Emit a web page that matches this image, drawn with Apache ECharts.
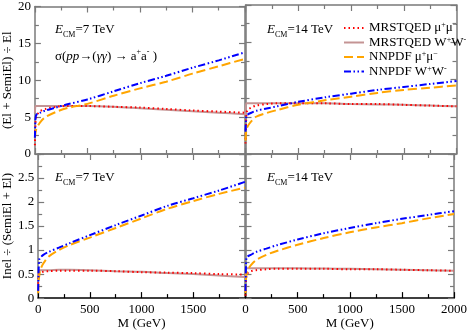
<!DOCTYPE html>
<html>
<head>
<meta charset="utf-8">
<script src="https://cdn.jsdelivr.net/npm/echarts@6/dist/echarts.min.js"></script>
<style>
html, body { margin: 0; padding: 0; background: #fff; }
#chart { width: 470px; height: 331px; }
</style>
</head>
<body>
<div id="chart"></div>
<script>
var massGeV = [0, 5, 10, 20, 50, 100, 200, 300, 500, 750, 1000, 1250, 1500, 1750, 2000];

// (El + SemiEl) / El at 7 TeV
var semi7MrstMu = [1.2, 4.0, 4.8, 5.3, 5.8, 6.1, 6.4, 6.5, 6.5, 6.4, 6.3, 6.1, 5.9, 5.75, 5.6];
var semi7MrstW = [5.6, 6.5, 6.5, 6.5, 6.5, 6.5, 6.5, 6.5, 6.5, 6.4, 6.2, 6.0, 5.8, 5.6, 5.4];
var semi7NnpdfMu = [2.2, 2.8, 3.2, 3.6, 4.3, 5.0, 5.7, 6.2, 6.8, 7.9, 8.9, 9.8, 10.9, 11.9, 12.9];
var semi7NnpdfW = [2.2, 4.6, 5.2, 5.4, 5.6, 5.9, 6.3, 6.7, 7.4, 8.5, 9.6, 10.6, 11.7, 12.7, 13.8];

// (El + SemiEl) / El at 14 TeV
var semi14MrstMu = [1.4, 4.0, 5.5, 5.9, 6.2, 6.5, 6.7, 6.8, 6.8, 6.8, 6.7, 6.7, 6.6, 6.5, 6.4];
var semi14MrstW = [5.2, 6.8, 6.8, 6.8, 6.8, 6.8, 6.8, 6.8, 6.8, 6.8, 6.7, 6.65, 6.6, 6.5, 6.4];
var semi14NnpdfMu = [1.8, 2.8, 3.3, 3.7, 4.3, 5.0, 5.5, 5.9, 6.6, 7.2, 7.7, 8.2, 8.6, 8.9, 9.2];
var semi14NnpdfW = [3.0, 4.6, 5.2, 5.3, 5.5, 5.8, 6.1, 6.4, 7.0, 7.6, 8.1, 8.6, 9.0, 9.4, 9.8];

// Inel / (SemiEl + El) at 7 TeV
var inel7MrstMu = [0.3, 0.45, 0.5, 0.53, 0.55, 0.56, 0.57, 0.57, 0.57, 0.56, 0.54, 0.53, 0.52, 0.5, 0.49];
var inel7MrstW = [0.45, 0.58, 0.58, 0.58, 0.58, 0.58, 0.59, 0.59, 0.58, 0.56, 0.55, 0.52, 0.5, 0.47, 0.44];
var inel7NnpdfMu = [0.1, 0.35, 0.45, 0.58, 0.72, 0.86, 1.0, 1.1, 1.26, 1.46, 1.66, 1.86, 2.02, 2.17, 2.3];
var inel7NnpdfW = [0.15, 0.6, 0.8, 0.84, 0.9, 0.96, 1.05, 1.14, 1.31, 1.52, 1.72, 1.92, 2.08, 2.24, 2.42];

// Inel / (SemiEl + El) at 14 TeV
var inel14MrstMu = [0.05, 0.35, 0.47, 0.52, 0.56, 0.58, 0.6, 0.61, 0.61, 0.61, 0.6, 0.6, 0.59, 0.58, 0.57];
var inel14MrstW = [0.45, 0.62, 0.62, 0.62, 0.62, 0.62, 0.62, 0.62, 0.62, 0.615, 0.61, 0.6, 0.59, 0.58, 0.57];
var inel14NnpdfMu = [0.1, 0.4, 0.5, 0.58, 0.68, 0.79, 0.9, 0.98, 1.11, 1.25, 1.37, 1.47, 1.56, 1.66, 1.75];
var inel14NnpdfW = [0.15, 0.7, 0.85, 0.87, 0.9, 0.96, 1.03, 1.1, 1.22, 1.35, 1.46, 1.56, 1.65, 1.73, 1.81];

var seriesNames = ['MRSTQED μ+μ−', 'MRSTQED W+W−', 'NNPDF μ+μ−', 'NNPDF W+W−'];
var legendRich = {
	'MRSTQED μ+μ−': '{n|MRSTQED μ}{s|+}{n|μ}{s|−}',
	'MRSTQED W+W−': '{n|MRSTQED W}{s|+}{n|W}{s|-}',
	'NNPDF μ+μ−': '{n|NNPDF μ}{s|+}{n|μ}{s|−}',
	'NNPDF W+W−': '{n|NNPDF W}{s|+}{n|W}{s|-}'
};
var lineStyles = {
	'MRSTQED μ+μ−': { color: '#ff0000', width: 2, type: [1.5, 3] },
	'MRSTQED W+W−': { color: '#c49494', width: 2, type: 'solid' },
	'NNPDF μ+μ−': { color: '#ffa500', width: 2, type: [9, 4] },
	'NNPDF W+W−': { color: '#0000ff', width: 2, type: [7, 2.5, 1.5, 2.5, 1.5, 2.5] }
};

var serif = 'Liberation Serif';
var grey = '#7a7a7a';

var grids = [
	{ left: 33.5, top: 5, width: 211.5, height: 149 },
	{ left: 245.5, top: 5, width: 211, height: 149 },
	{ left: 33.5, top: 154, width: 211.5, height: 148 },
	{ left: 245.5, top: 154, width: 211, height: 148 }
];

function xAxis(grid, position, labels, color, name) {
	return {
		type: 'value', gridIndex: grid, position: position, min: 0, max: 2000, interval: 500,
		name: name || '', nameLocation: 'middle', nameGap: 17,
		nameTextStyle: { fontFamily: serif, fontSize: 13, color: '#000' },
		axisLine: { show: true, onZero: false, lineStyle: { color: color, width: 1.5 } },
		axisTick: { show: true, inside: true, length: 6, lineStyle: { color: color, width: 1.2 } },
		minorTick: { show: true, splitNumber: 2, length: 4, lineStyle: { color: color, width: 1.2 } },
		splitLine: { show: false },
		axisLabel: {
			show: !!labels, margin: 5, fontFamily: serif, fontSize: 13, color: '#000',
			formatter: function (v) { return (labels === 'no2000' && v === 2000) ? '' : String(v); }
		}
	};
}

function yAxis(grid, position, max, interval, labels, name) {
	return {
		type: 'value', gridIndex: grid, position: position, min: 0, max: max, interval: interval,
		name: name || '', nameLocation: 'middle', nameGap: 19,
		nameTextStyle: { fontFamily: serif, fontSize: 13, color: '#000' },
		axisLine: { show: true, onZero: false, lineStyle: { color: grey, width: 1.5 } },
		axisTick: { show: true, inside: true, length: 6, lineStyle: { color: grey, width: 1.2 } },
		minorTick: { show: true, splitNumber: 2, length: 4, lineStyle: { color: grey, width: 1.2 } },
		splitLine: { show: false },
		axisLabel: {
			show: !!labels, margin: 4, fontFamily: serif, fontSize: 13, color: '#000',
			formatter: function (v) { return (labels === 'no3' && v === 3) ? '' : String(v); }
		}
	};
}

function curve(name, grid, values) {
	return {
		name: name, type: 'line', xAxisIndex: grid * 2, yAxisIndex: grid * 2,
		data: massGeV.map(function (m, i) { return [m, values[i]]; }),
		symbol: 'none', showSymbol: false, smooth: 0.3,
		lineStyle: lineStyles[name]
	};
}

function ecm(label) {
	return '{e|E}{sub|CM}{n|=' + label + ' TeV}';
}
var ecmRich = {
	e: { fontFamily: serif, fontSize: 13, fontStyle: 'italic', lineHeight: 18, verticalAlign: 'middle' },
	sub: { fontFamily: serif, fontSize: 8, lineHeight: 10, verticalAlign: 'bottom' },
	n: { fontFamily: serif, fontSize: 13, lineHeight: 18, verticalAlign: 'middle' },
	i: { fontFamily: serif, fontSize: 13, fontStyle: 'italic', lineHeight: 18, verticalAlign: 'middle' },
	sup: { fontFamily: serif, fontSize: 8, lineHeight: 18, verticalAlign: 'top' }
};

var myChart = echarts.init(document.getElementById('chart'));
var option = {
	animation: false,
	backgroundColor: '#fff',
	grid: grids,
	xAxis: [
		xAxis(0, 'bottom', false, grey), xAxis(0, 'top', false, grey),
		xAxis(1, 'bottom', false, grey), xAxis(1, 'top', false, grey),
		xAxis(2, 'bottom', 'no2000', '#000', 'M (GeV)'), xAxis(2, 'top', false, grey),
		xAxis(3, 'bottom', true, '#000', 'M (GeV)'), xAxis(3, 'top', false, grey)
	],
	yAxis: [
		yAxis(0, 'left', 20, 5, true, '(El + SemiEl) ÷ El'), yAxis(0, 'right', 20, 5, false),
		yAxis(1, 'left', 20, 5, false), yAxis(1, 'right', 20, 5, false),
		yAxis(2, 'left', 3, 0.5, 'no3', 'Inel ÷ (SemiEl + El)'), yAxis(2, 'right', 3, 0.5, false),
		yAxis(3, 'left', 3, 0.5, false), yAxis(3, 'right', 3, 0.5, false)
	],
	legend: {
		data: seriesNames,
		orient: 'vertical', left: 338, top: 16, itemWidth: 20, itemHeight: 10, itemGap: 1,
		itemStyle: { opacity: 0 },
		formatter: function (name) { return legendRich[name]; },
		textStyle: {
			rich: {
				n: { fontFamily: serif, fontSize: 13, color: '#000', lineHeight: 14 },
				s: { fontFamily: serif, fontSize: 8, color: '#000', lineHeight: 14, verticalAlign: 'top' }
			}
		}
	},
	graphic: [
		{ type: 'text', left: 55, top: 23, style: { text: ecm('7'), rich: ecmRich, fill: '#000' } },
		{ type: 'text', left: 55, top: 48, style: { text: '{n|σ(}{i|pp}{n|→(}{i|γγ}{n|) → a}{sup|+}{n|a}{sup|-}{n| )}', rich: ecmRich, fill: '#000' } },
		{ type: 'text', left: 267, top: 23, style: { text: ecm('14'), rich: ecmRich, fill: '#000' } },
		{ type: 'text', left: 55, top: 171, style: { text: ecm('7'), rich: ecmRich, fill: '#000' } },
		{ type: 'text', left: 267, top: 171, style: { text: ecm('14'), rich: ecmRich, fill: '#000' } }
	],
	series: [
		curve(seriesNames[1], 0, semi7MrstW), curve(seriesNames[0], 0, semi7MrstMu),
		curve(seriesNames[2], 0, semi7NnpdfMu), curve(seriesNames[3], 0, semi7NnpdfW),
		curve(seriesNames[1], 1, semi14MrstW), curve(seriesNames[0], 1, semi14MrstMu),
		curve(seriesNames[2], 1, semi14NnpdfMu), curve(seriesNames[3], 1, semi14NnpdfW),
		curve(seriesNames[1], 2, inel7MrstW), curve(seriesNames[0], 2, inel7MrstMu),
		curve(seriesNames[2], 2, inel7NnpdfMu), curve(seriesNames[3], 2, inel7NnpdfW),
		curve(seriesNames[1], 3, inel14MrstW), curve(seriesNames[0], 3, inel14MrstMu),
		curve(seriesNames[2], 3, inel14NnpdfMu), curve(seriesNames[3], 3, inel14NnpdfW)
	]
};
myChart.setOption(option);
</script>
</body>
</html>
